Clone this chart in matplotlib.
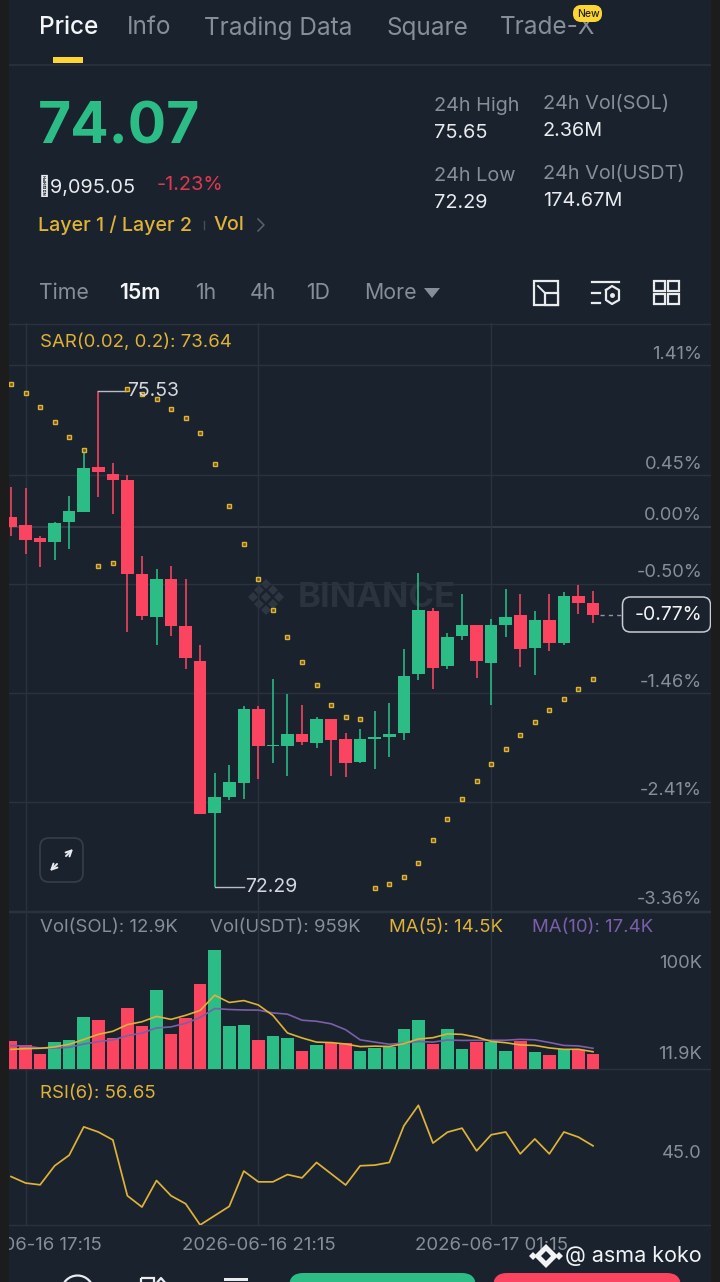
import matplotlib

matplotlib.use('Agg')

import numpy as np
import matplotlib.pyplot as plt
from matplotlib.patches import FancyBboxPatch, Rectangle

plt.rcParams['font.family'] = ['Inter', 'Noto Sans', 'DejaVu Sans']

# 15m candles, left to right
opens = [74.707, 74.655, 74.568, 74.546, 74.676, 74.738, 75.035, 74.988, 74.949, 74.335, 74.052,
         74.304, 73.995, 73.769, 72.776, 72.877, 72.968, 73.451, 73.212, 73.212, 73.290, 73.229,
         73.390, 73.257, 73.109, 73.257, 73.272, 73.299, 73.682, 74.095, 73.734, 73.932, 74.002,
         73.752, 74.004, 74.065, 73.852, 74.032, 73.882, 74.193, 74.143]
highs = [74.905, 74.898, 74.585, 74.676, 74.846, 75.127, 75.53, 75.058, 74.979, 74.454, 74.366,
         74.387, 74.304, 73.871, 73.037, 73.088, 73.473, 73.473, 73.649, 73.551, 73.481, 73.399,
         73.390, 73.299, 73.323, 73.442, 73.490, 73.843, 74.343, 74.115, 73.952, 74.202, 74.002,
         74.039, 74.235, 74.204, 74.093, 74.204, 74.219, 74.263, 74.224]
lows = [74.585, 74.465, 74.382, 74.426, 74.496, 74.738, 74.836, 74.727, 73.954, 74.034, 73.871,
        73.932, 73.713, 72.768, 72.29, 72.859, 72.868, 72.998, 73.099, 73.018, 73.218, 73.197,
        73.018, 73.009, 73.100, 73.060, 73.138, 73.251, 73.643, 73.582, 73.713, 73.904, 73.654,
        73.479, 73.921, 73.730, 73.673, 73.832, 73.873, 74.074, 74.013]
closes = [74.644, 74.557, 74.546, 74.666, 74.744, 75.027, 75.001, 74.949, 74.335, 74.063, 74.304,
          73.995, 73.784, 72.768, 72.877, 72.979, 73.451, 73.212, 73.220, 73.290, 73.240, 73.390,
          73.251, 73.099, 73.257, 73.270, 73.288, 73.671, 74.102, 73.723, 73.921, 74.002, 73.765,
          74.002, 74.052, 73.843, 74.032, 73.882, 74.193, 74.143, 74.07]
sar = [75.574, 75.515, 75.427, 75.325, 75.231, 75.147, 74.385, 74.409, 75.541, 75.510, 75.478,
       75.412, 75.352, 75.254, 75.055, 74.779, 74.529, 74.304, 74.102, 73.921, 73.758, 73.610,
       73.481, 73.401, 73.391, 72.284, 72.309, 72.356, 72.446, 72.596, 72.737, 72.866, 72.983,
       73.094, 73.192, 73.285, 73.370, 73.449, 73.521, 73.586, 73.647]

# volume in thousands of SOL
volume = [23.8, 20.2, 12.9, 22.7, 24.4, 44.0, 41.5, 25.8, 51.0, 36.1, 66.4, 29.4, 42.6, 71.4,
          100.0, 36.1, 37.3, 24.4, 27.5, 26.0, 15.1, 20.2, 22.1, 21.6, 14.8, 17.4, 18.8, 33.9,
          40.9, 20.7, 33.3, 16.8, 22.4, 22.7, 15.4, 23.8, 14.6, 12.0, 16.5, 16.0, 12.9]
ma5 = [16.5, 17.1, 17.4, 18.5, 20.8, 24.8, 29.1, 31.7, 37.3, 39.7, 44.2, 41.7, 45.1, 49.2, 62.0,
       55.9, 57.5, 53.8, 45.0, 30.3, 26.1, 22.6, 22.2, 21.0, 18.8, 19.2, 18.9, 21.3, 25.2, 26.3,
       29.5, 29.1, 26.8, 23.2, 22.1, 20.2, 19.8, 17.7, 16.5, 16.6, 14.5]
ma10 = [19.6, 19.3, 17.6, 17.6, 18.2, 21.0, 23.0, 24.4, 28.0, 30.2, 34.5, 35.4, 38.4, 43.3, 50.8,
        50.0, 49.6, 49.5, 47.1, 46.1, 41.0, 40.1, 38.0, 33.0, 24.5, 22.6, 20.8, 21.7, 23.1, 22.6,
        24.4, 24.0, 24.1, 24.2, 24.2, 24.9, 24.5, 22.3, 19.8, 19.4, 17.4]
rsi = [38.1, 34.2, 33.1, 44.6, 51.0, 68.1, 65.0, 60.2, 26.5, 19.7, 35.7, 26.5, 21.7, 8.9, 14.5,
       20.1, 41.4, 34.9, 34.9, 39.3, 37.3, 46.6, 39.8, 33.0, 44.6, 45.0, 46.6, 68.7, 81.1, 58.3,
       64.9, 67.3, 53.6, 63.3, 65.0, 51.8, 60.8, 51.8, 65.0, 61.9, 56.65]

pct_levels = [1.41, 0.45, 0.00, -0.50, -1.46, -2.41, -3.36]
pct_labels = ['1.41%', '0.45%', '0.00%', '-0.50%', '-1.46%', '-2.41%', '-3.36%']
base_price = 74.645
time_ticks = [1, 17, 33]
time_labels = ['2026-06-16 17:15', '2026-06-16 21:15', '2026-06-17 01:15']

BG = '#1a222d'
STRIP = '#1c1c1c'
GRID = '#2a323e'
GREEN = '#2bbd85'
RED = '#fb4560'
YELLOW = '#dfb238'
PURPLE = '#7b5fa8'
GRAY = '#868e9a'
WHITE = '#e9ebee'

W, H = 720, 1282
LEFT, RIGHT = 9, 711
SPACING = 14.55
FIRST_X = 11


def panel(top, bottom, ylim):
    ax = fig.add_axes([LEFT / W, 1 - bottom / H, (RIGHT - LEFT) / W, (bottom - top) / H], zorder=1)
    ax.patch.set_alpha(0)
    ax.set_xlim((LEFT - FIRST_X) / SPACING, (RIGHT - FIRST_X) / SPACING)
    ax.set_ylim(*ylim)
    for side in ax.spines:
        ax.spines[side].set_visible(False)
    ax.set_xticks(time_ticks)
    ax.set_xticklabels([])
    ax.set_yticks([])
    ax.tick_params(length=0)
    ax.grid(axis='x', color=GRID, lw=1)
    ax.set_axisbelow(True)
    return ax


def label(ax, text, value, color=GRAY, dy=0.0, size=13.2):
    # right side scale label, dy in px above the value
    ax.annotate(text, xy=(1, value), xycoords=ax.get_yaxis_transform(),
                xytext=(-9 * 0.72, dy * 0.72), textcoords='offset points',
                ha='right', va='center', color=color, fontsize=size)


def txt(x, y, s, color=GRAY, size=13.2, weight='normal', ha='left', ax=None, **kw):
    (ax or ui).text(x, y, s, color=color, fontsize=size, fontweight=weight, ha=ha, va='center', **kw)


fig = plt.figure(figsize=(W / 100, H / 100), dpi=100, facecolor=BG)

# pixel layer behind the chart for the app chrome
ui = fig.add_axes([0, 0, 1, 1], zorder=0)
ui.set_xlim(0, W)
ui.set_ylim(H, 0)
ui.axis('off')

tabs = [(39, 'Price', '#f4f5f6'), (127, 'Info', GRAY), (204, 'Trading Data', GRAY),
        (386, 'Square', GRAY), (500, 'Trade-X', GRAY)]
for x, s, c in tabs:
    txt(x, 28, s, color=c, size=17.5, weight='medium' if s == 'Price' else 'normal')
ui.add_patch(Rectangle((53, 57), 30, 6, color='#fcd535', lw=0))
ui.plot([LEFT, RIGHT], [64.5, 64.5], color=GRID, lw=1.2)
ui.add_patch(FancyBboxPatch((577, 9), 21, 9, boxstyle='round,pad=0,rounding_size=4', mutation_aspect=1,
                            fc='#fcd535', ec='#fcd535', lw=8 * 0.72, zorder=3))
txt(588, 14, 'New', color='#222222', size=7.5, weight='medium', ha='center', zorder=4)

txt(38, 129, '74.07', color=GREEN, size=41, weight='bold')
txt(38, 186, '\u09f39,095.05', color=WHITE, size=14.3, family=['Inter', 'Noto Sans', 'Noto Sans CJK SC', 'DejaVu Sans'])
txt(157, 185, '-1.23%', color='#e0394f', size=14.3)
txt(38, 225, 'Layer 1 / Layer 2', color=YELLOW, size=14.2, weight='medium')
ui.plot([204, 204], [221, 229], color='#4a4f57', lw=1)
txt(214, 225, 'Vol', color=YELLOW, size=14.2, weight='medium')
ui.plot([258, 264, 258], [219, 225, 231], color='#5a626e', lw=1.1)

stats = [(434, 106, '24h High', 133, '75.65'), (543, 104, '24h Vol(SOL)', 131, '2.36M'),
         (434, 176, '24h Low', 203, '72.29'), (543, 174, '24h Vol(USDT)', 201, '174.67M')]
for x, y1, s1, y2, s2 in stats:
    txt(x, y1, s1, color=GRAY, size=14.3)
    txt(x, y2, s2, color=WHITE, size=14.3)

periods = [(39, 'Time', GRAY, 'normal'), (119, '15m', '#f4f5f6', 'semibold'), (195, '1h', GRAY, 'normal'),
           (250, '4h', GRAY, 'normal'), (306, '1D', GRAY, 'normal'), (364, 'More', GRAY, 'normal')]
for x, s, c, w in periods:
    txt(x, 293, s, color=c, size=15.3, weight=w)
ui.fill([424, 440, 432], [288, 288, 298], color=GRAY, lw=0)

# toolbar icons
ui.add_patch(Rectangle((533.5, 281), 24, 24, fill=False, ec=WHITE, lw=1.6))
ui.add_patch(Rectangle((545, 293), 13, 12, fc=BG, ec=WHITE, lw=1.6, zorder=3))
ui.plot([538, 545], [286, 293], color=WHITE, lw=1.4)
ui.plot([592, 619], [282, 282], color=WHITE, lw=1.6)
ui.plot([592, 600], [293, 293], color=WHITE, lw=1.6)
ui.plot([592, 600], [303, 303], color=WHITE, lw=1.6)
ui.plot([606, 612, 619, 619, 612, 606, 606], [290, 286, 290, 300, 304, 300, 290], color=WHITE, lw=1.6)
ui.plot([612], [295], 'o', color=WHITE, ms=2.5)
for x in (654, 668):
    for y in (281, 294):
        ui.add_patch(Rectangle((x, y), 11, 10, fill=False, ec=WHITE, lw=1.6))

# watermark
for dx, dy in [(0, -13), (-13, 0), (13, 0), (0, 13), (-7, -7), (7, -7), (-7, 7), (7, 7), (0, 0)]:
    ui.plot([266 + dx], [597 + dy], 'D', color='#2e3642', ms=5.5, mew=0)
txt(298, 598, 'BINANCE', color='#2b333f', size=25, weight='bold')

# expand button
ui.add_patch(FancyBboxPatch((40, 838), 43, 44, boxstyle='round,pad=0,rounding_size=9',
                            fc='none', ec='#343c48', lw=1.3))
ui.annotate('', xy=(75, 847), xytext=(64, 858), arrowprops=dict(arrowstyle='->', color=WHITE, lw=1.4))
ui.annotate('', xy=(48, 873), xytext=(59, 862), arrowprops=dict(arrowstyle='->', color=WHITE, lw=1.4))

for y in (323.5, 912, 1069, 1225):
    ui.plot([LEFT, RIGHT], [y, y], color=GRID, lw=1)

# price panel, y axis is price, scale labels are percent from the reference price
price_ax = panel(323, 912, (base_price + (526.5 - 912) * 0.00653, base_price + (526.5 - 323) * 0.00653))
for p in pct_levels:
    price_ax.axhline(base_price * (1 + p / 100), color='#39414d' if p == 0 else GRID, lw=1.1 if p == 0 else 1, zorder=0)
for p, s in zip(pct_levels, pct_labels):
    label(price_ax, s, base_price * (1 + p / 100), dy=11)

x = np.arange(len(closes))
colors = [GREEN if c >= o else RED for o, c in zip(opens, closes)]
price_ax.vlines(x, lows, highs, colors=colors, lw=1.15, zorder=2)
price_ax.bar(x, np.abs(np.array(closes) - np.array(opens)), bottom=np.minimum(opens, closes),
             width=0.86, color=colors, lw=0, zorder=3)
price_ax.plot(x, sar, ls='none', marker='s', ms=3.4, mfc='#6d5518', mec=YELLOW, mew=1.0, zorder=4)

hi = int(np.argmax(highs))
lo = int(np.argmin(lows))
price_ax.plot([hi, hi + 1.9], [highs[hi], highs[hi]], color='#b9bec6', lw=1, zorder=3)
price_ax.plot([lo, lo + 2.0], [lows[lo], lows[lo]], color='#b9bec6', lw=1, zorder=3)
price_ax.text(hi + 2.0, highs[hi], '%.2f' % highs[hi], color='#d5d8dd', fontsize=14, va='center', zorder=5)
price_ax.text(lo + 2.1, lows[lo], '%.2f' % lows[lo], color='#d5d8dd', fontsize=14, va='center', zorder=5)

# last price tag
price_ax.plot([x[-1] + 0.5, x[-1] + 1.9], [closes[-1], closes[-1]], color='#8f96a1', lw=1, ls=(0, (3, 3)))
ui.add_patch(FancyBboxPatch((622.5, 597), 88, 35, boxstyle='round,pad=0,rounding_size=8',
                            fc=BG, ec='#c9ccd1', lw=1.1))
txt(702, 615, '-0.77%', color='#f4f5f6', size=14, ha='right', zorder=5)

txt(40, 342, 'SAR(0.02, 0.2): 73.64', color=YELLOW, size=13.4)

# volume panel
vol_ax = panel(912, 1069, (0, (1069 - 912) / 1.19))
vol_ax.bar(x, volume, width=0.86, color=colors, lw=0, zorder=2)
vol_ax.plot(x, ma10, color=PURPLE, lw=1.2, zorder=3)
vol_ax.plot(x, ma5, color=YELLOW, lw=1.2, zorder=4)
label(vol_ax, '100K', 100, dy=-14)
label(vol_ax, '11.9K', 11.9, dy=0)
txt(40, 927, 'Vol(SOL): 12.9K', color=GRAY, size=13.4)
txt(210, 927, 'Vol(USDT): 959K', color=GRAY, size=13.4)
txt(389, 927, 'MA(5): 14.5K', color=YELLOW, size=13.4)
txt(532, 927, 'MA(10): 17.4K', color=PURPLE, size=13.4)

# rsi panel
rsi_ax = panel(1069, 1225, (45 - (1225.3 - 1165.3) / 1.66, 45 + (1165.3 - 1069) / 1.66))
rsi_ax.plot(x, rsi, color=YELLOW, lw=1.25, zorder=3)
label(rsi_ax, '45.0', 45, dy=12)
txt(40, 1094, 'RSI(6): 56.65', color=YELLOW, size=13.4)

rsi_ax.set_xticklabels(time_labels, color=GRAY, fontsize=13.4)
rsi_ax.tick_params(axis='x', pad=9)

# pixel layer above the chart: side strips, watermark, cut off bottom bar
top = fig.add_axes([0, 0, 1, 1], zorder=3)
top.set_xlim(0, W)
top.set_ylim(H, 0)
top.axis('off')
top.add_patch(Rectangle((0, 0), LEFT, H, color=STRIP, lw=0))
top.add_patch(Rectangle((RIGHT, 0), W - RIGHT, H, color=STRIP, lw=0))
top.add_patch(FancyBboxPatch((289, 1273), 187, 30, boxstyle='round,pad=0,rounding_size=14', fc=GREEN, ec='none'))
top.add_patch(FancyBboxPatch((493, 1273), 188, 30, boxstyle='round,pad=0,rounding_size=14', fc=RED, ec='none'))
top.plot([77], [1291], 'o', ms=23, mfc='none', mec=WHITE, mew=1.6)
top.add_patch(Rectangle((141, 1278), 13, 10, fill=False, ec=WHITE, lw=1.6))
top.plot([155, 161, 167], [1285, 1278, 1285], color=WHITE, lw=1.6)
top.add_patch(Rectangle((224, 1278), 24, 3, color=WHITE, lw=0))
top.plot([546], [1256], 'D', color='#f2f3f4', ms=12, mew=0)
top.plot([546], [1256], 'D', color=BG, ms=5, mew=0)
for dx, dy in [(-13, 0), (13, 0)]:
    top.plot([546 + dx], [1256 + dy], 'D', color='#f2f3f4', ms=4, mew=0)
txt(565, 1256, '@ asma koko', color='#f2f3f4', size=15.5, ax=top)
top.set_ylim(H, 0)

fig.savefig('out.png', dpi=100, facecolor=BG)
